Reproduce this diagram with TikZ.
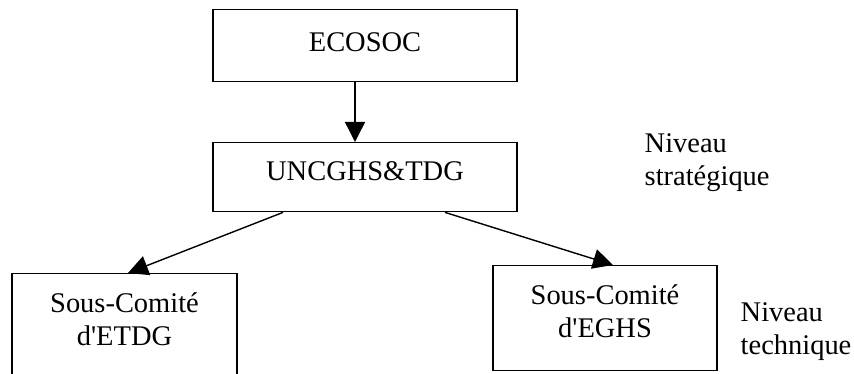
\documentclass[tikz,border=0pt]{standalone}
\usepackage{fontspec}
\setmainfont{Liberation Serif}[Ligatures=TeXOff]
\usetikzlibrary{arrows.meta}
\usetikzlibrary{shapes}

\begin{document}
\begin{tikzpicture}[x=0.02cm, y=-0.02cm, >={Triangle[length=0.4cm, width=0.4cm]}, line width=0.8pt, every node/.style={inner sep=0pt, font=\fontsize{16.2}{19}\selectfont}]
	\path[use as bounding box, clip] (0,0) rectangle (854,374);
	%Top
	\node [draw, anchor=north, minimum width=6.08cm, text height=0.84cm, text depth=0.6cm] (ecosoc) at (365,9) {ECOSOC};
	\node [draw, anchor=north, minimum width=6.08cm, text height=0.76cm, text depth=0.62cm] (uncghs) at (365,142) {UNCGHS\&TDG};
	\draw[->] ([xshift=-0.2cm]ecosoc.south) -- ([xshift=-0.2cm]uncghs.north);
	%Sub-committees
	\node [draw, anchor=north, minimum width=4.5cm, align=center, text height=1.44cm, text depth=1.1cm] (etdg) at (124.5,273) {Sous-Comité\\d'ETDG};
	\node [draw, anchor=north, minimum width=4.48cm, align=center, text height=1.44cm, text depth=0.66cm] (eghs) at (605,265) {Sous-Comité\\d'EGHS};
	\draw[->] ([xshift=-1.64cm]uncghs.south) -- ([xshift=0.07cm]etdg.north);
	\draw[->] ([xshift=1.6cm]uncghs.south) -- ([xshift=0.16cm]eghs.north);
	%Levels
	\node [anchor=base west, align=left] (strat) at (644,186) {Niveau\\stratégique};
	\node [anchor=base west, align=left] (tech) at (740,355) {Niveau\\technique};
\end{tikzpicture}
\end{document}
